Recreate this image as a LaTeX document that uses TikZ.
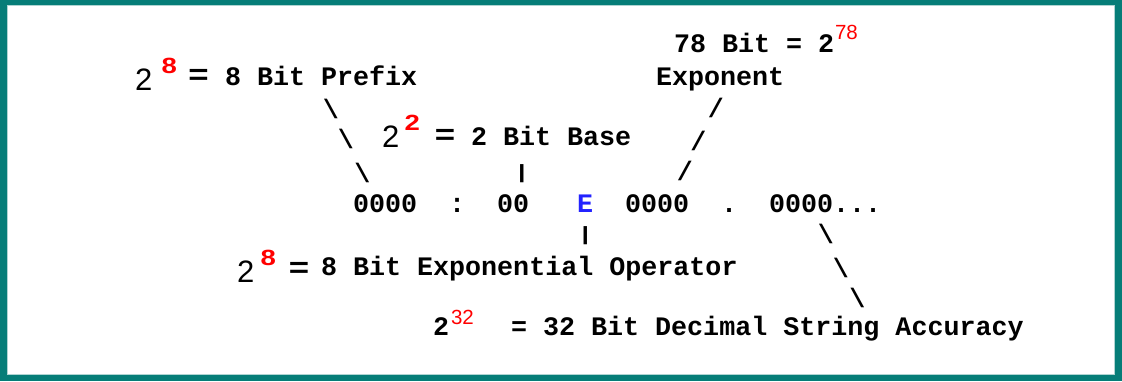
\documentclass[tikz,border=0pt]{standalone}
\usepackage{graphicx}
\usepackage{fontspec}
\setmainfont{Liberation Sans}
\newfontfamily\courfont{Liberation Mono}
\newfontfamily\arialfont{Liberation Sans}
\definecolor{frameteal}{RGB}{6,125,120}
\definecolor{framelight}{RGB}{175,212,210}
\definecolor{supred}{RGB}{255,0,0}
\definecolor{eblue}{RGB}{35,35,255}
\tikzset{
  txt/.style={inner sep=0pt, outer sep=0pt, anchor=base west},
  mono/.style={txt, font=\courfont\bfseries\fontsize{26.7}{30}\selectfont},
  bigtwo/.style={txt, font=\arialfont\fontsize{31}{34}\selectfont},
  supb/.style={txt, text=supred, font=\arialfont\bfseries\fontsize{22}{24}\selectfont},
  supr/.style={txt, text=supred, font=\arialfont\fontsize{20.5}{24}\selectfont},
  eqs/.style={inner sep=0pt, outer sep=0pt, anchor=center, font=\arialfont\bfseries\fontsize{29}{32}\selectfont},
  glyph/.style={inner sep=0pt, outer sep=0pt, anchor=center, font=\courfont\bfseries\fontsize{26.7}{30}\selectfont}
}
\begin{document}
\begin{tikzpicture}[x=1pt,y=-1pt]
\useasboundingbox (0,0) rectangle (1122,381);
% frame
\fill[frameteal] (0,0) rectangle (1122,381);
\fill[white] (7,5) rectangle (1115,375);
\draw[framelight, line width=1.2pt] (7.6,5.6) rectangle (1114.4,374.4);

% row A: 78 Bit = 2^78
\node[mono] (bitexp) at (674,52) {78 Bit = 2};
\node[supr] (bitexpsup) at (835,39) {78};
% Exponent
\node[mono] (exponent) at (656,85) {Exponent};

% row B: 2^8 = 8 Bit Prefix
\node[bigtwo] (pretwo) at (135,90) {2};
\node[supb] (presup) at (161.5,73) {\scalebox{1.25}[1]{8}};
\node[eqs] (preeq) at (198.5,76.5) {\scalebox{1.2}[1]{=}};
\node[mono] (prefix) at (225,85) {8 Bit Prefix};

% row D: 2^2 = 2 Bit Base
\node[bigtwo] (basetwo) at (382,147) {2};
\node[supb] (basesup) at (404.5,130) {\scalebox{1.25}[1]{2}};
\node[eqs] (baseeq) at (445,137) {\scalebox{1.2}[1]{=}};
\node[mono] (base) at (471,145) {2 Bit Base};

% main line
\node[mono] (pre) at (353,212) {0000};
\node[mono] (colon) at (449,212) {:};
\node[mono] (bb) at (497,212) {00};
\node[mono, text=eblue] (eop) at (577,212) {E};
\node[mono] (ex) at (625,212) {0000};
\node[mono] (dot) at (721,212) {.};
\node[mono] (dec) at (769,212) {0000...};

% ascii connectors: prefix
\node[glyph] (p1) at (331,109) {\textbackslash};
\node[glyph] (p2) at (346,139) {\textbackslash};
\node[glyph] (p3) at (362.5,172.5) {\textbackslash};
% base
\node[glyph] (b1) at (522,174) {\scalebox{1}[0.72]{|}};
% exponent
\node[glyph] (x1) at (716,108) {/};
\node[glyph] (x2) at (698.5,141) {/};
\node[glyph] (x3) at (685,171) {/};
% operator
\node[glyph] (o1) at (585.5,236) {\scalebox{1}[0.72]{|}};
% decimal accuracy
\node[glyph] (d1) at (826,234) {\textbackslash};
\node[glyph] (d2) at (841,267.5) {\textbackslash};
\node[glyph] (d3) at (857.5,297.5) {\textbackslash};

% row H: 2^8 = 8 Bit Exponential Operator
\node[bigtwo] (optwo) at (237,282) {2};
\node[supb] (opsup) at (260.5,265) {\scalebox{1.25}[1]{8}};
\node[eqs] (opeq) at (299,269.5) {\scalebox{1.2}[1]{=}};
\node[mono] (operator) at (321,275) {8 Bit Exponential Operator};

% row J: 2^32 = 32 Bit Decimal String Accuracy
\node[mono] (acctwo) at (433,335) {2};
\node[supr] (accsup) at (451,324) {32};
\node[mono] (accuracy) at (511,335) {= 32 Bit Decimal String Accuracy};
\end{tikzpicture}
\end{document}
